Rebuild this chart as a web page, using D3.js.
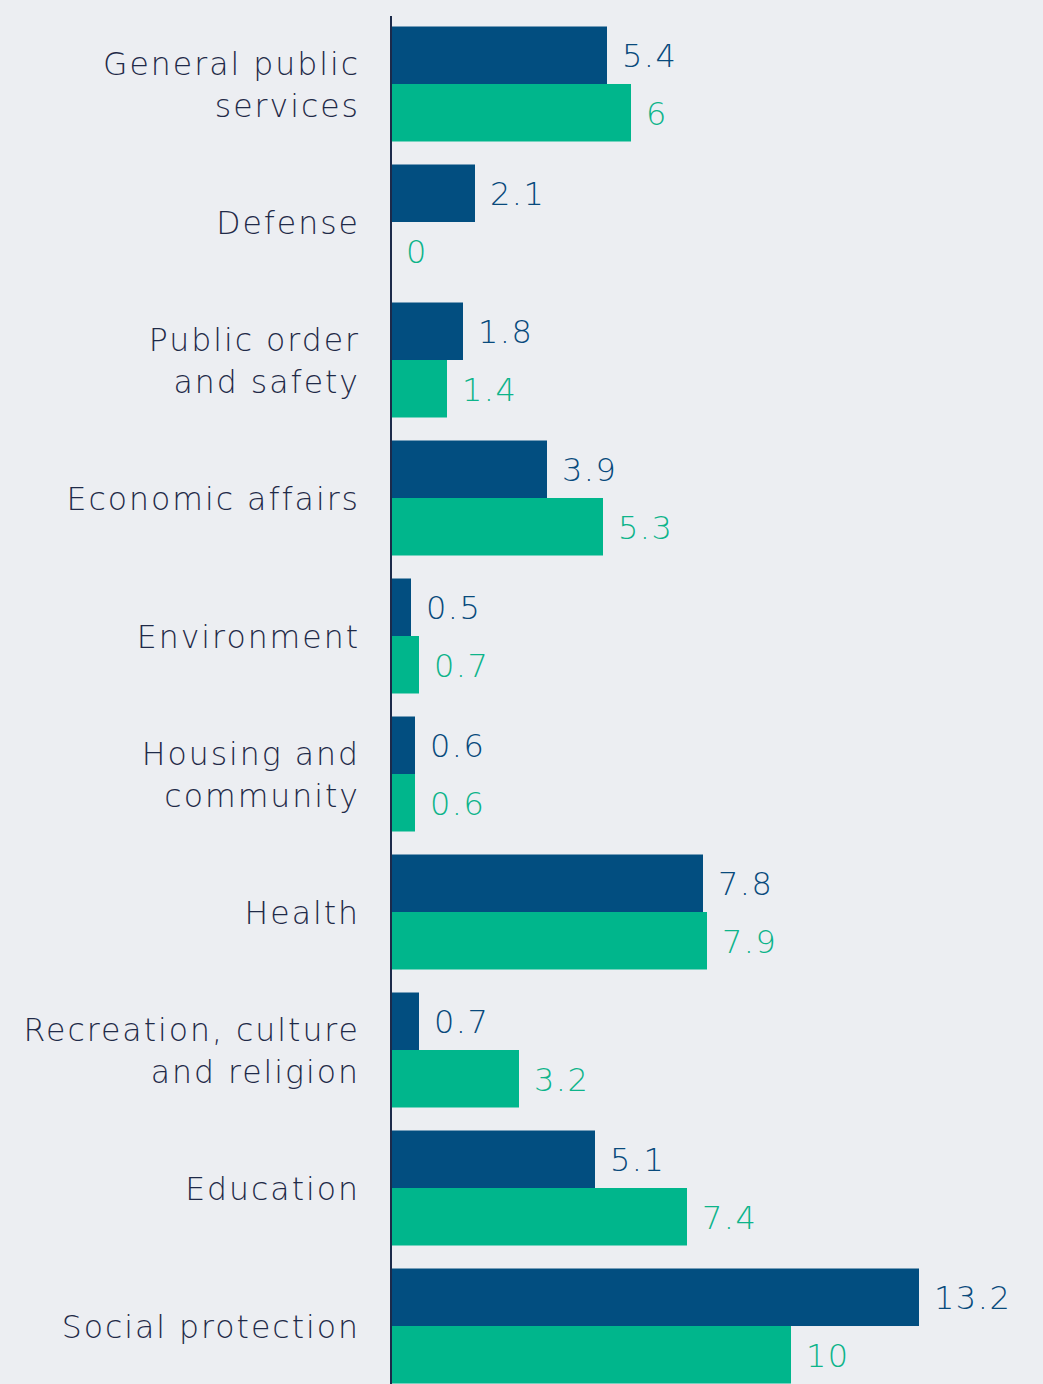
<!DOCTYPE html>
<html><head><meta charset="utf-8">
<script src="https://cdn.jsdelivr.net/npm/d3@7"></script>
<style>
html,body{margin:0;padding:0;background:#eceef2;}
svg{display:block;}
text{font-family:"DejaVu Sans",sans-serif;font-weight:300;}
</style></head>
<body><svg id="c" width="1043" height="1384"></svg>
<script>
const categories = [
  ["General public","services"],
  ["Defense"],
  ["Public order","and safety"],
  ["Economic affairs"],
  ["Environment"],
  ["Housing and","community"],
  ["Health"],
  ["Recreation, culture","and religion"],
  ["Education"],
  ["Social protection"]
];
const seriesNames = ["series1","series2"];
const series1 = [5.4, 2.1, 1.8, 3.9, 0.5, 0.6, 7.8, 0.7, 5.1, 13.2];
const series2 = [6, 0, 1.4, 5.3, 0.7, 0.6, 7.9, 3.2, 7.4, 10];
const colors = ["#024e80","#00b68c"];
const labelColors = ["#084a7c","#0db48a"];

const svg = d3.select("#c");
const W = 1043, H = 1384;
const keys = categories.map(c => c.join(" "));
const y = d3.scaleBand().domain(keys).range([15, 1395]).paddingInner(0.1667).paddingOuter(0.0833);
const ySub = d3.scaleBand().domain(seriesNames).range([0, y.bandwidth()]);
const x = d3.scaleLinear().domain([0, 13.2]).range([391, 919]);

const data = keys.map((k,i) => ({key:k, lines:categories[i], vals:[series1[i], series2[i]]}));

const g = svg.selectAll("g.grp").data(data).join("g").attr("class","grp")
  .attr("transform", d => `translate(0,${y(d.key)})`);

g.selectAll("rect").data(d => d.vals.map((v,j)=>({v, s:seriesNames[j], j})))
  .join("rect")
  .attr("x", x(0)).attr("y", d => ySub(d.s))
  .attr("width", d => x(d.v) - x(0)).attr("height", ySub.bandwidth())
  .attr("fill", d => colors[d.j]);

g.selectAll("text.val").data(d => d.vals.map((v,j)=>({v, s:seriesNames[j], j})))
  .join("text").attr("class","val")
  .attr("x", d => x(d.v) + 15)
  .attr("y", d => ySub(d.s) + ySub.bandwidth()/2 + 12)
  .attr("fill", d => labelColors[d.j])
  .attr("font-size", 32)
  .attr("letter-spacing", 1.5)
  .text(d => d3.format("~g")(d.v));

g.append("text").attr("class","cat")
  .attr("text-anchor","end")
  .attr("fill","#1f2a48")
  .attr("font-size", 31.5)
  .attr("letter-spacing", 2)
  .each(function(d){
    const t = d3.select(this);
    const n = d.lines.length;
    const lh = 42;
    const c = y.bandwidth()/2 + 12;
    d.lines.forEach((ln,i) => {
      t.append("tspan").attr("x", 360).attr("y", c + (i - (n-1)/2)*lh).text(ln);
    });
  });

svg.append("line").attr("x1", x(0)).attr("x2", x(0)).attr("y1", 16).attr("y2", H)
  .attr("stroke","#1c2a4a").attr("stroke-width",2);
</script></body></html>
